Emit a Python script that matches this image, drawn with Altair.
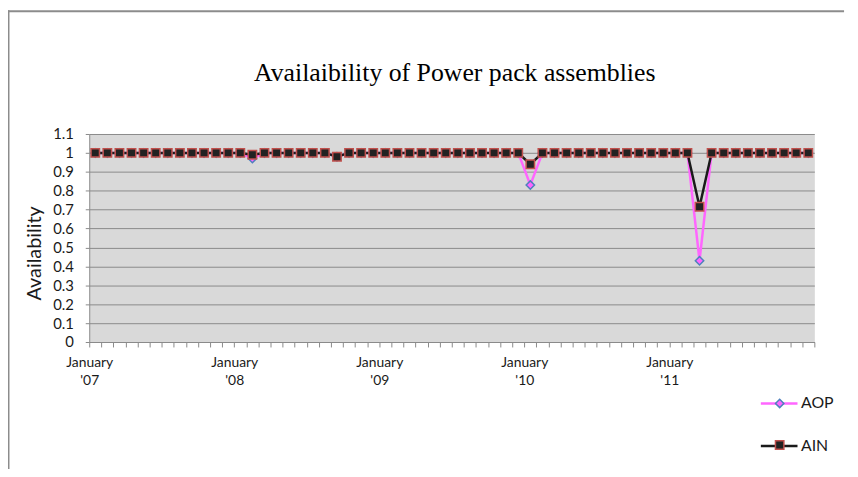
import altair as alt
import pandas as pd

months = [f"{y}-{m:02d}" for y in range(2007, 2012) for m in range(1, 13)]
year_labels = ["'07", "'08", "'09", "'10", "'11"]
series_names = ["AOP", "AIN"]
marker_names = ["AOP marker", "AIN marker"]

aop = [1, 1, 1, 1, 1, 1, 1, 1, 1, 1, 1, 1,
       1, 0.97, 1, 1, 1, 1, 1, 1, 0.98, 1, 1, 1,
       1, 1, 1, 1, 1, 1, 1, 1, 1, 1, 1, 1,
       0.83, 1, 1, 1, 1, 1, 1, 1, 1, 1, 1, 1,
       1, 1, 0.43, 1, 1, 1, 1, 1, 1, 1, 1, 1]
ain = [1, 1, 1, 1, 1, 1, 1, 1, 1, 1, 1, 1,
       1, 0.99, 1, 1, 1, 1, 1, 1, 0.98, 1, 1, 1,
       1, 1, 1, 1, 1, 1, 1, 1, 1, 1, 1, 1,
       0.94, 1, 1, 1, 1, 1, 1, 1, 1, 1, 1, 1,
       1, 1, 0.715, 1, 1, 1, 1, 1, 1, 1, 1, 1]

rows = []
for name, mname, vals in zip(series_names, marker_names, [aop, ain]):
    for i, (m, v) in enumerate(zip(months, vals)):
        rows.append({"idx": i, "month": m, "series": name, "marker": mname, "value": v})
df = pd.DataFrame(rows)

FONT = "Lato"
GRID = "#8a8a8a"

year_js = "[" + ",".join('"' + y + '"' for y in year_labels) + "]"
x_label_expr = ("(datum.value + 0.5) % 12 == 0 && datum.value < 59 ? "
                "['January', " + year_js + "[floor((datum.value + 0.5) / 12)]] : ''")

x_enc = alt.X("idx:Q",
              scale=alt.Scale(domain=[-0.5, 59.5], nice=False, zero=False),
              axis=alt.Axis(values=[i - 0.5 for i in range(61)], tickCount=200,
                            labelExpr=x_label_expr,
                            grid=False, title=None, tickSize=5, tickColor=GRID,
                            domainColor=GRID, labelFont=FONT, labelFontSize=14,
                            labelColor="#1a1a1a", labelOverlap=False, labelBound=False,
                            labelFlush=False, labelLineHeight=18, labelPadding=9,
                            labelAlign="center"))
y_enc = alt.Y("value:Q",
              scale=alt.Scale(domain=[0, 1.1], nice=False),
              axis=alt.Axis(values=[round(i * 0.1, 1) for i in range(12)], tickCount=200,
                            format="~g", labelOverlap=False,
                            grid=True, gridColor=GRID, gridWidth=1, tickSize=4,
                            tickColor=GRID, domainColor=GRID, labelFont=FONT,
                            labelFontSize=15, labelColor="#1a1a1a", labelPadding=12,
                            title="Availability", titleFont=FONT, titleFontSize=20,
                            titleFontWeight="normal", titleColor="#1a1a1a",
                            titleX=-49, titleY=120, titleAlign="center",
                            titleBaseline="alphabetic", titleAngle=270))

line_legend = alt.Legend(orient="none", legendX=676.5, legendY=252, title=None,
                         symbolType="stroke", symbolSize=1369, symbolStrokeWidth=2.5,
                         labelFont=FONT, labelFontSize=16, labelColor="#1a1a1a",
                         labelOffset=2, rowPadding=15, padding=0)
marker_legend = alt.Legend(orient="none", legendX=692, legendY=267, title=None,
                           symbolSize=72, symbolStrokeWidth=1.5,
                           labelFont=FONT, labelFontSize=1, labelOpacity=0,
                           labelOffset=0, rowPadding=26, padding=0)

base = alt.Chart(df)
lines = base.mark_line(strokeWidth=2.5).encode(
    x=x_enc, y=y_enc,
    color=alt.Color("series:N", scale=alt.Scale(domain=series_names,
                                                range=["#ff66ff", "#1a1a1a"]),
                    legend=line_legend),
    order="idx:Q",
)
markers = base.mark_point(filled=True, size=72, opacity=1, strokeWidth=1.5).encode(
    x="idx:Q", y="value:Q",
    shape=alt.Shape("marker:N", scale=alt.Scale(domain=marker_names,
                                                range=["diamond", "square"]),
                    legend=marker_legend),
    fill=alt.Fill("marker:N", scale=alt.Scale(domain=marker_names,
                                              range=["#ff66ff", "#222222"]),
                  legend=marker_legend),
    stroke=alt.Stroke("marker:N", scale=alt.Scale(domain=marker_names,
                                                  range=["#4f81bd", "#c0504d"]),
                      legend=marker_legend),
    order=alt.Order("marker:N", sort="descending"),
)

frame_df = pd.DataFrame({"a": [0]})
top_rule = alt.Chart(frame_df).mark_rule(color="#8c8c8c", strokeWidth=2).encode(
    x=alt.value(-82), x2=alt.value(762), y=alt.value(-124))
left_rule = alt.Chart(frame_df).mark_rule(color="#8c8c8c", strokeWidth=2).encode(
    x=alt.value(-81.5), y=alt.value(-125), y2=alt.value(345))

chart = alt.layer(lines, markers, top_rule, left_rule).properties(
    width=732, height=210,
    padding={"left": 82, "top": 125, "right": 36, "bottom": 126},
    autosize=alt.AutoSizeParams(type="none"),
    title=alt.Title("Availaibility of Power pack assemblies", font="Liberation Serif",
                    fontSize=26, fontWeight="normal", color="#000000",
                    anchor="middle", frame="group", offset=-98, dx=3,
                    baseline="alphabetic"),
).configure_view(fill="#d9d9d9", stroke="transparent")

chart.save("out.html", embed_options={"renderer": "svg", "actions": False})
